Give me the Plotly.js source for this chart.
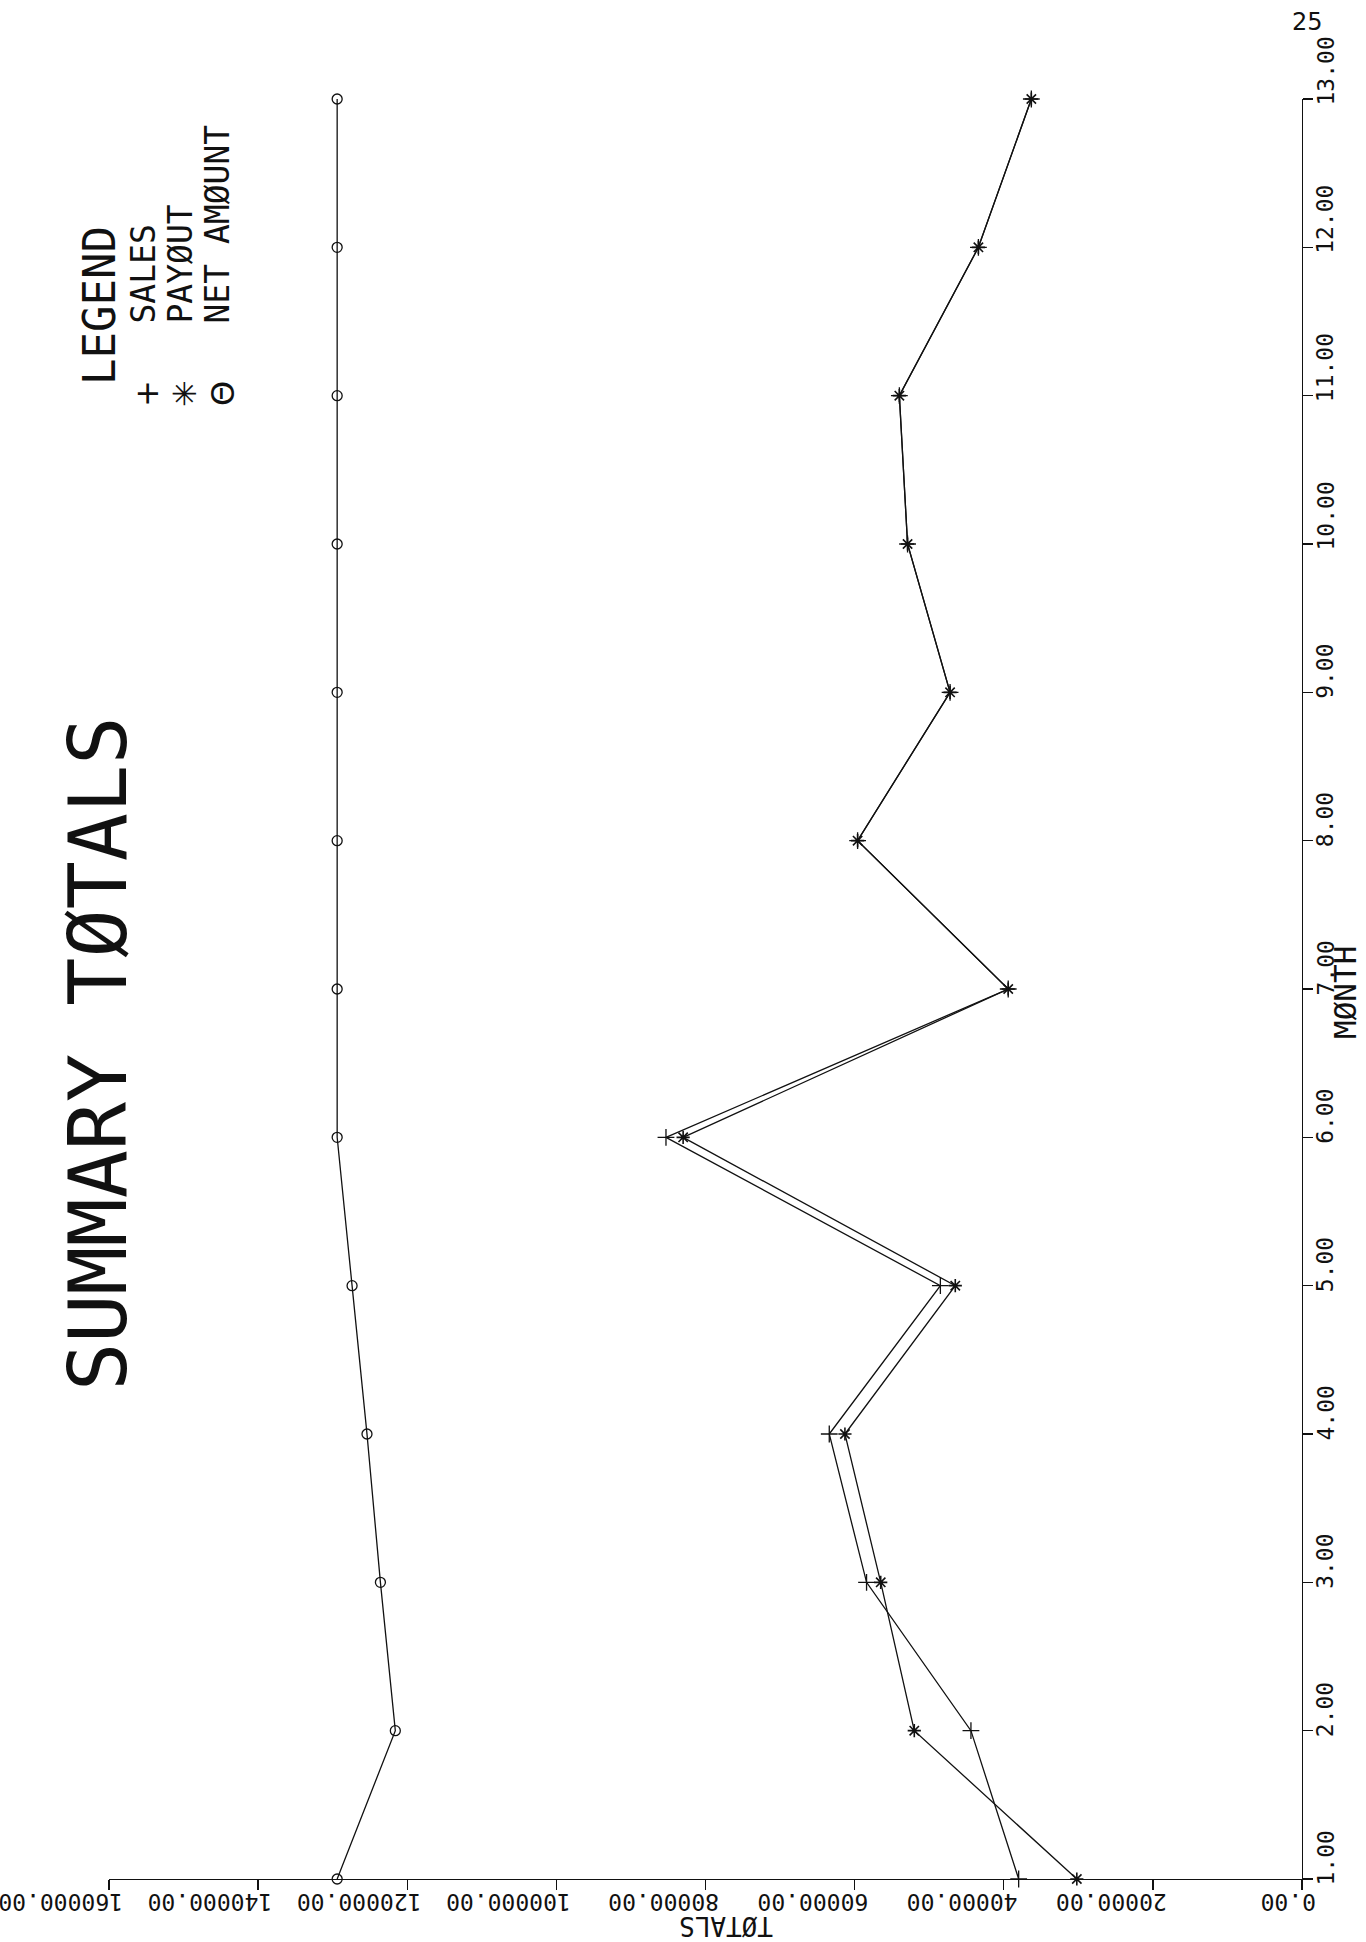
<!DOCTYPE html>
<html>
<head>
<meta charset="utf-8">
<script src="https://cdn.plot.ly/plotly-3.0.1.min.js"></script>
<style>html,body{margin:0;padding:0;background:#fff;}#chart{width:1366px;height:1942px;}</style>
</head>
<body>
<div id="chart"></div>
<script>
// ---- data ----
const months = [1, 2, 3, 4, 5, 6, 7, 8, 9, 10, 11, 12, 13];
const sales  = [38000, 44400, 58400, 63400, 48500, 85300, 39400, 59600, 47200, 52900, 54000, 43400, 36300];
const payout = [30200, 52000, 56500, 61300, 46500, 83000, 39400, 59600, 47200, 52900, 54000, 43400, 36300];
const netAmount = [129400, 121600, 123600, 125400, 127400, 129400, 129400, 129400, 129400, 129400, 129400, 129400, 129400];
const totalsTicks = [0, 20000, 40000, 60000, 80000, 100000, 120000, 140000, 160000];
const monthTicks = [1, 2, 3, 4, 5, 6, 7, 8, 9, 10, 11, 12, 13];
const titleText = "SUMMARY TØTALS";
const xTitle = "MØNTH";
const yTitle = "TØTALS";
const legendTitle = "LEGEND";
const seriesNames = ["SALES", "PAYØUT", "NET AMØUNT"];
const legendSymbols = ["+", "✳", "Θ"];
const pageNumber = "25";

// ---- layout geometry (pixels) ----
const W = 1366, H = 1942;
const L = 109, R = 1302, T = 99, B = 1879;
const px = p => (p - L) / (R - L);
const py = p => (B - p) / (B - T);
const mono = "DejaVu Sans Mono, Liberation Mono, monospace";
const ink = "#111";

const lineStyle = {color: ink, width: 1.3};
const traces = [
  {x: sales, y: months, name: seriesNames[0], mode: "lines+markers", cliponaxis: false,
   line: lineStyle, marker: {symbol: "cross-thin-open", size: 12, color: ink, line: {color: ink, width: 1.3}}},
  {x: payout, y: months, name: seriesNames[1], mode: "lines+markers", cliponaxis: false,
   line: lineStyle, marker: {symbol: "asterisk-open", size: 11, color: ink, line: {color: ink, width: 1.6}}},
  {x: netAmount, y: months, name: seriesNames[2], mode: "lines+markers", cliponaxis: false,
   line: lineStyle, marker: {symbol: "circle-open", size: 10, color: ink, line: {color: ink, width: 1.3}}}
];

const ann = [];
// totals tick labels (upside down)
totalsTicks.forEach(v => ann.push({
  x: v, xref: "x", y: 0, yref: "paper", text: v.toFixed(2), textangle: 180,
  xanchor: "right", yanchor: "middle", xshift: 15, yshift: -23, showarrow: false, borderpad: 0,
  font: {family: mono, size: 23, color: ink}
}));
// month tick labels (reading upward)
monthTicks.forEach(m => ann.push({
  x: 1, xref: "paper", y: m, yref: "y", text: m.toFixed(2), textangle: -90,
  xanchor: "center", yanchor: "bottom", xshift: 23, yshift: -8, showarrow: false, borderpad: 0,
  font: {family: mono, size: 23, color: ink}
}));
// axis titles
ann.push({x: px(1345), xref: "paper", y: py(993), yref: "paper", text: xTitle, textangle: -90,
  xanchor: "center", yanchor: "middle", showarrow: false, borderpad: 0, font: {family: mono, size: 31, color: ink}});
ann.push({x: px(726), xref: "paper", y: py(1926), yref: "paper", text: yTitle, textangle: 180,
  xanchor: "center", yanchor: "middle", showarrow: false, borderpad: 0, font: {family: mono, size: 26, color: ink}});
// main title
ann.push({x: px(98), xref: "paper", y: py(1054), yref: "paper", text: titleText, textangle: -90,
  xanchor: "center", yanchor: "middle", showarrow: false, font: {family: mono, size: 80, color: ink}});
// legend
ann.push({x: px(99), xref: "paper", y: py(306), yref: "paper", text: legendTitle, textangle: -90,
  xanchor: "center", yanchor: "middle", showarrow: false, borderpad: 0, font: {family: mono, size: 44, color: ink}});
const entryX = [143, 180, 217];
const symX = [147, 185, 223];
seriesNames.forEach((n, i) => {
  ann.push({x: px(entryX[i]), xref: "paper", y: py(325), yref: "paper", text: n, textangle: -90,
    xanchor: "center", yanchor: "bottom", showarrow: false, borderpad: 0, font: {family: mono, size: 33, color: ink}});
  ann.push({x: px(symX[i]), xref: "paper", y: py(394), yref: "paper", text: legendSymbols[i], textangle: -90,
    xanchor: "center", yanchor: "middle", showarrow: false, borderpad: 0, font: {family: "DejaVu Sans, sans-serif", size: 32, color: ink}});
});
// page number
ann.push({x: px(1307), xref: "paper", y: py(22), yref: "paper", text: pageNumber,
  xanchor: "center", yanchor: "middle", showarrow: false, font: {family: "DejaVu Sans, sans-serif", size: 24, color: ink}});

const layout = {
  width: W, height: H,
  margin: {l: L, r: W - R, t: T, b: H - B, pad: 0},
  paper_bgcolor: "#fff", plot_bgcolor: "#fff",
  showlegend: false,
  xaxis: {range: [160000, 0], autorange: false, showline: true, linecolor: ink, linewidth: 1.3,
          ticks: "outside", ticklen: 10, tickwidth: 1.3, tickcolor: ink, tickvals: totalsTicks,
          showticklabels: false, showgrid: false, zeroline: false, fixedrange: true},
  yaxis: {range: [1, 13], autorange: false, side: "right", showline: true, linecolor: ink, linewidth: 1.3,
          ticks: "outside", ticklen: 10, tickwidth: 1.3, tickcolor: ink, tickvals: monthTicks,
          showticklabels: false, showgrid: false, zeroline: false, fixedrange: true},
  annotations: ann
};

Plotly.newPlot("chart", traces, layout, {staticPlot: true, displayModeBar: false});
</script>
</body>
</html>
